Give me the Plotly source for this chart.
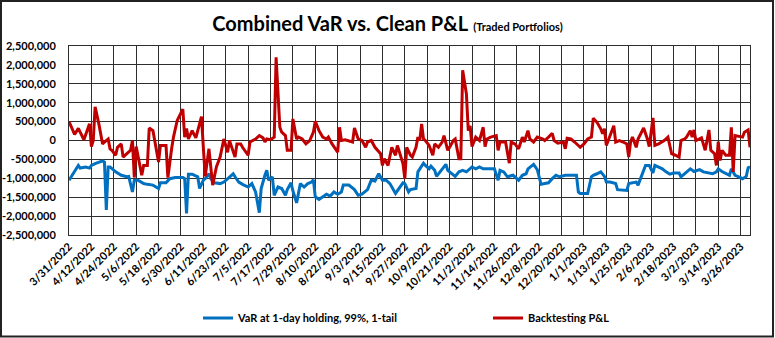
import pandas as pd
import plotly.graph_objects as go

START = "2022-03-31"

# VaR at 1-day holding, 99%, 1-tail (day offset from 3/31/2022, value)
var_days = [0, 3, 5, 6, 9, 11, 12, 14, 16, 18, 19, 20, 21, 22, 25, 28, 31, 32, 34, 35,
            37, 39, 40, 42, 45, 48, 49, 52, 54, 57, 61, 62, 63, 64, 66, 69, 70, 72, 73, 75,
            76, 78, 81, 83, 86, 88, 89, 91,
            93, 96, 98, 100, 102, 103, 105, 106, 107, 109, 110, 112, 114, 116, 117, 119, 120, 122,
            124, 126, 128, 130, 131, 132, 134, 136, 138, 140, 142, 144, 146, 147, 150, 153, 155,
            157, 160, 162, 164, 166, 168, 170, 172, 175, 179, 180, 182,
            183, 186, 187, 190, 191, 193, 194, 196, 197, 199, 202, 203, 205, 207, 209, 211, 213,
            214, 216, 218, 220, 222, 224, 228, 230, 231, 233, 235, 238, 239, 241, 243, 245, 246,
            249, 251, 253, 255, 257, 259, 261, 263, 266, 269, 272, 273,
            274, 276, 278, 280, 281, 283, 285, 287, 288, 290, 293, 294, 297, 299, 300, 302, 304,
            305, 307, 309, 311, 313, 314, 315, 318, 320, 322, 324, 327, 328, 330, 333, 335, 338,
            340, 343, 345, 347, 348, 350, 352, 354, 355, 357, 359, 361, 363, 364, 365]
var_values = [-1050000, -830000, -660000, -730000, -700000, -730000, -660000, -610000, -570000, -540000,
              -570000, -1840000, -700000, -700000, -830000, -920000, -960000, -950000, -1360000, -1050000,
              -1050000, -1100000, -1140000, -1160000, -1180000, -1270000, -1120000, -1120000, -1010000, -980000,
              -980000, -1010000, -1930000, -890000, -890000, -960000, -1270000, -1050000, -1010000, -880000,
              -1010000, -1120000, -1140000, -1100000, -960000, -880000, -960000, -1100000,
              -1160000, -1230000, -1140000, -1360000, -1910000, -1270000, -920000, -790000, -1050000, -960000,
              -1450000, -1230000, -1270000, -1450000, -1300000, -1120000, -1330000, -1650000,
              -1140000, -1230000, -1140000, -1100000, -1040000, -1490000, -1560000, -1490000, -1420000, -1470000,
              -1360000, -1420000, -1360000, -1180000, -1180000, -1300000, -1450000,
              -1420000, -1300000, -1050000, -1070000, -880000, -1050000, -1050000, -1140000, -1400000, -1120000,
              -1140000, -1360000,
              -1300000, -1270000, -830000, -600000, -660000, -750000, -680000, -790000, -950000, -830000,
              -630000, -790000, -880000, -950000, -830000, -790000, -830000,
              -790000, -700000, -750000, -700000, -750000, -750000, -750000, -1050000, -790000, -830000,
              -960000, -920000, -960000, -1050000, -920000, -880000, -750000,
              -630000, -770000, -1160000, -1140000, -1120000, -1010000, -920000, -960000, -920000, -920000,
              -920000, -1360000,
              -1400000, -1400000, -1400000, -960000, -920000, -880000, -830000, -950000, -1100000, -1100000,
              -1140000, -1300000, -1320000, -1320000, -1140000, -1120000, -1100000,
              -1180000, -920000, -660000, -660000, -860000, -660000, -680000, -750000, -830000, -890000,
              -860000, -860000, -960000, -880000, -750000, -820000, -770000,
              -830000, -860000, -880000, -830000, -750000, -820000, -860000, -920000, -750000, -920000,
              -960000, -1010000, -950000, -720000, -700000]

# Backtesting P&L (day offset from 3/31/2022, value)
pnl_days = [0, 2, 3, 5, 8, 11, 12, 13, 14, 16, 18, 19, 21, 22, 23, 25, 26, 28, 29, 31,
            33, 34, 35, 36, 38, 39, 40, 42, 43, 45, 48, 49, 52, 53, 55, 56, 58, 61, 62, 63,
            64, 66, 68, 71, 72, 73, 75, 77, 79, 81, 83, 85, 86, 89, 90, 92,
            93, 96, 97, 100, 102, 104, 105, 106, 108, 110, 111, 113, 114, 116, 117, 119, 120, 122,
            123, 125, 127, 129, 131, 132, 134, 136, 138, 139, 141, 144, 145, 146, 148, 150, 152,
            153, 155, 157, 159, 160, 162, 164, 167, 168, 169, 171, 173, 175, 176, 179, 180, 181, 183,
            184, 186, 187, 188, 189, 190, 191, 193, 195, 196, 198, 200, 201, 203, 204, 206, 207,
            209, 210, 211, 213, 214, 215, 216, 218, 220, 222, 223, 224, 226, 229, 230, 231, 234,
            236, 237, 239, 241, 243, 244, 246, 247, 249, 251, 254, 255, 257, 259, 260, 262, 265,
            266, 267, 269, 271, 274,
            276, 278, 280, 281, 283, 285, 286, 287, 288, 290, 292, 293, 295, 297, 299, 300, 301,
            302, 304, 305, 308, 310, 311, 313, 314, 316, 318, 319, 321, 322, 323, 325, 327, 328,
            330, 331, 333, 334, 335, 336, 338, 339, 341, 343, 344, 346, 347, 348, 349, 350, 352,
            354, 355, 356, 357, 359, 361, 362, 364, 365]
pnl_values = [500000, 280000, 160000, 320000, 20000, 440000, -160000, 0, 890000, 440000,
              -90000, -40000, 40000, -220000, -260000, -390000, -180000, -90000, -440000, -350000,
              -260000, 0, -980000, -160000, -700000, -920000, -660000, -660000, 330000, 260000,
              -570000, -130000, -130000, -980000, -220000, 90000, 530000, 830000, 90000, 320000,
              40000, 260000, 70000, 630000, -180000, -950000, -220000, -1180000, -700000, -440000,
              40000, -310000, 0, -440000, -90000, -90000,
              -180000, -390000, -40000, 40000, 130000, 70000, -40000, 40000, 20000, 90000,
              2200000, 350000, 220000, 130000, -260000, -260000, 570000, 40000,
              90000, 40000, -90000, 0, 220000, 510000, 260000, 90000, 40000, 90000,
              -90000, -310000, 350000, 0, 20000, -20000, -40000,
              330000, 40000, 0, -180000, -40000, 0, -180000, -350000, -660000, -480000,
              -660000, -180000, -390000, -130000, -610000, -1010000, -180000, -390000,
              -440000, -180000, 90000, 0, 440000, 40000, 0, -130000, -390000, -90000,
              -180000, -40000, 130000, -260000, -180000, 0, 40000,
              -480000, -480000, 1860000, 1230000, 260000, 390000, -160000, 90000, 0, 350000,
              -160000, 40000, 90000, 130000, -260000, -40000, -40000,
              -600000, -40000, -90000, -220000, 90000, -40000, 260000, 40000, -40000, 90000,
              40000, 0, 90000, 190000, 0, -70000, -40000,
              -220000, 60000, 40000, -40000, -180000,
              -90000, 40000, 90000, 590000, 480000, 310000, 180000, 310000, -130000, 130000,
              390000, -40000, 0, -40000, -90000, -440000, -40000,
              90000, -180000, 40000, 330000, 40000, -160000, 600000, -130000, -90000, -40000,
              0, 90000, -160000, -350000, -390000, -440000, 0,
              40000, 90000, 260000, 90000, 280000, 0, 40000, 70000, -260000, 280000,
              -260000, -350000, -660000, -30000, -530000, -260000, -390000,
              -390000, 350000, -830000, 130000, 110000, 90000, 220000, 280000, -180000]

# Axis ticks
y_tickvals = [2500000, 2000000, 1500000, 1000000, 500000, 0,
              -500000, -1000000, -1500000, -2000000, -2500000]
y_ticktext = ["2,500,000", "2,000,000", "1,500,000", "1,000,000", "500,000", "0",
              "-500,000", "-1,000,000", "-1,500,000", "-2,000,000", "-2,500,000"]
x_tick_step_days = 12
x_end = "2023-03-31"

start = pd.Timestamp(START)
var_dates = start + pd.to_timedelta(var_days, unit="D")
pnl_dates = start + pd.to_timedelta(pnl_days, unit="D")

FONT = "Lato"
W, H = 775, 338
ML, MR, MT, MB = 69, 25, 46, 103
pw = W - ML - MR
ph = H - MT - MB

fig = go.Figure()
fig.add_trace(go.Scatter(x=var_dates, y=var_values, mode="lines",
                         name="VaR at 1-day holding, 99%, 1-tail",
                         line=dict(color="#0070C0", width=3), legend="legend"))
fig.add_trace(go.Scatter(x=pnl_dates, y=pnl_values, mode="lines",
                         name="Backtesting P&L",
                         line=dict(color="#C00000", width=3), legend="legend2"))

legend_font = dict(size=11, family=FONT, color="black", weight="bold")
legend_y = -(318 - MT - ph) / ph


def legend_at(px):
    return dict(orientation="h", x=(px - ML) / pw, xanchor="left",
                y=legend_y, yanchor="middle", font=legend_font,
                bgcolor="rgba(0,0,0,0)", itemwidth=30)


fig.update_layout(
    width=W, height=H,
    margin=dict(l=ML, r=MR, t=MT, b=MB, pad=0, autoexpand=False),
    paper_bgcolor="white", plot_bgcolor="white",
    font=dict(family=FONT, color="black"),
    title=dict(
        text="<b>Combined VaR vs. Clean P&L</b> <span style='font-size:11px'><b>(Traded Portfolios)</b></span>",
        x=0.5, xanchor="center", y=1 - 24 / H, yanchor="middle",
        font=dict(size=20, family=FONT, color="black")),
    showlegend=True,
    legend=legend_at(198),
    legend2=legend_at(488),
    xaxis=dict(
        type="date", range=[START, x_end],
        tick0=START, dtick=x_tick_step_days * 86400000,
        tickformat="%-m/%-d/%Y", tickangle=-45,
        tickfont=dict(size=11, family=FONT, color="black", weight="bold"),
        showgrid=True, gridcolor="#2e2e2e", gridwidth=1,
        showline=True, linecolor="#2e2e2e", linewidth=1, mirror=True,
        ticks="", zeroline=False),
    yaxis=dict(
        range=[-2500000, 2500000], tickvals=y_tickvals, ticktext=y_ticktext,
        tickfont=dict(size=11, family=FONT, color="black", weight="bold"),
        showgrid=True, gridcolor="#2e2e2e", gridwidth=1,
        showline=True, linecolor="#2e2e2e", linewidth=1, mirror=True,
        ticks="", ticklabelstandoff=10, zeroline=False),
)

# outer chart frame
fig.add_shape(type="rect", xref="paper", yref="paper",
              x0=-(ML - 1) / pw, x1=1 + (MR - 2) / pw,
              y0=-(MB - 1.5) / ph, y1=1 + (MT - 1) / ph,
              line=dict(color="#222222", width=2), fillcolor="rgba(0,0,0,0)", layer="below")

fig.write_html("out.html")
